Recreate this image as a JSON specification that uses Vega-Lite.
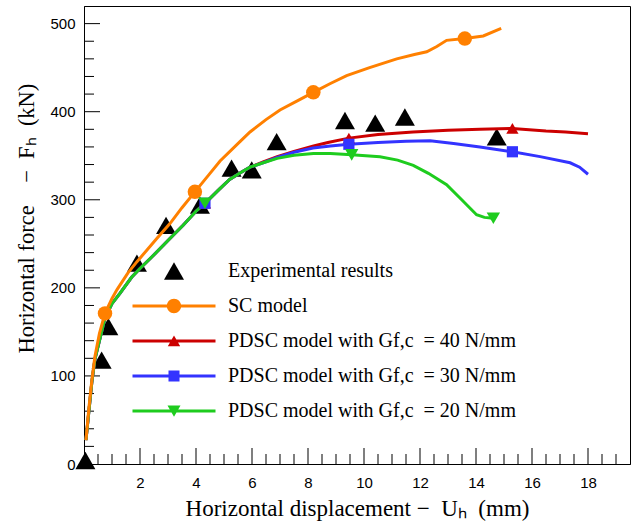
{
  "$schema": "https://vega.github.io/schema/vega-lite/v6.json",
  "width": 546,
  "height": 458,
  "autosize": {"type": "none"},
  "padding": {"left": 84, "top": 6, "right": 13, "bottom": 63},
  "background": "white",
  "config": {
    "view": {"stroke": "black", "strokeWidth": 1},
    "axis": {
      "grid": false,
      "ticks": false,
      "domainColor": "black",
      "domainWidth": 1,
      "labelFont": "Liberation Sans",
      "labelFontSize": 15,
      "labelColor": "black",
      "labelFlush": false,
      "labelOverlap": false,
      "titleFont": "Liberation Serif",
      "titleFontWeight": "normal",
      "titleColor": "black"
    }
  },
  "resolve": {"axis": {"x": "independent", "y": "independent"}},
  "datasets": {
    "xticks": [
      {"v": 0.5}, {"v": 1}, {"v": 1.5}, {"v": 2}, {"v": 2.5}, {"v": 3}, {"v": 3.5}, {"v": 4}, {"v": 4.5}, {"v": 5},
      {"v": 5.5}, {"v": 6}, {"v": 6.5}, {"v": 7}, {"v": 7.5}, {"v": 8}, {"v": 8.5}, {"v": 9}, {"v": 9.5}, {"v": 10},
      {"v": 10.5}, {"v": 11}, {"v": 11.5}, {"v": 12}, {"v": 12.5}, {"v": 13}, {"v": 13.5}, {"v": 14}, {"v": 14.5}, {"v": 15},
      {"v": 15.5}, {"v": 16}, {"v": 16.5}, {"v": 17}, {"v": 17.5}, {"v": 18}, {"v": 18.5}, {"v": 19}
    ],
    "yticks": [
      {"v": 20}, {"v": 40}, {"v": 60}, {"v": 80}, {"v": 100}, {"v": 120}, {"v": 140}, {"v": 160}, {"v": 180}, {"v": 200},
      {"v": 220}, {"v": 240}, {"v": 260}, {"v": 280}, {"v": 300}, {"v": 320}, {"v": 340}, {"v": 360}, {"v": 380}, {"v": 400},
      {"v": 420}, {"v": 440}, {"v": 460}, {"v": 480}, {"v": 500}
    ],
    "main": [
      {"series": "EXP", "x": 0.05, "y": 4, "m": 1},
      {"series": "EXP", "x": 0.63, "y": 118, "m": 1},
      {"series": "EXP", "x": 0.87, "y": 156, "m": 1},
      {"series": "EXP", "x": 1.89, "y": 228, "m": 1},
      {"series": "EXP", "x": 2.93, "y": 271, "m": 1},
      {"series": "EXP", "x": 4.14, "y": 294, "m": 1},
      {"series": "EXP", "x": 5.27, "y": 336, "m": 1},
      {"series": "EXP", "x": 5.99, "y": 334, "m": 1},
      {"series": "EXP", "x": 6.88, "y": 366, "m": 1},
      {"series": "EXP", "x": 9.32, "y": 390, "m": 1},
      {"series": "EXP", "x": 10.4, "y": 387, "m": 1},
      {"series": "EXP", "x": 11.46, "y": 394, "m": 1},
      {"series": "EXP", "x": 14.74, "y": 371.5, "m": 1},

      {"series": "G40", "x": 0.07, "y": 27, "m": 0},
      {"series": "G40", "x": 0.28, "y": 93, "m": 0},
      {"series": "G40", "x": 0.39, "y": 119, "m": 0},
      {"series": "G40", "x": 0.75, "y": 166, "m": 0},
      {"series": "G40", "x": 1.0, "y": 182, "m": 0},
      {"series": "G40", "x": 1.29, "y": 194, "m": 0},
      {"series": "G40", "x": 1.7, "y": 212, "m": 0},
      {"series": "G40", "x": 2.0, "y": 222, "m": 0},
      {"series": "G40", "x": 2.42, "y": 235, "m": 0},
      {"series": "G40", "x": 3.07, "y": 256, "m": 0},
      {"series": "G40", "x": 3.54, "y": 271, "m": 0},
      {"series": "G40", "x": 4.0, "y": 287, "m": 0},
      {"series": "G40", "x": 4.32, "y": 296, "m": 1},
      {"series": "G40", "x": 4.8, "y": 311, "m": 0},
      {"series": "G40", "x": 5.2, "y": 323, "m": 0},
      {"series": "G40", "x": 5.6, "y": 331, "m": 0},
      {"series": "G40", "x": 5.93, "y": 337, "m": 0},
      {"series": "G40", "x": 6.4, "y": 343, "m": 0},
      {"series": "G40", "x": 6.9, "y": 349, "m": 0},
      {"series": "G40", "x": 7.5, "y": 355, "m": 0},
      {"series": "G40", "x": 8.2, "y": 361, "m": 0},
      {"series": "G40", "x": 8.71, "y": 365, "m": 0},
      {"series": "G40", "x": 9.46, "y": 370, "m": 1},
      {"series": "G40", "x": 10.5, "y": 374, "m": 0},
      {"series": "G40", "x": 11.75, "y": 377, "m": 0},
      {"series": "G40", "x": 13.0, "y": 379, "m": 0},
      {"series": "G40", "x": 14.14, "y": 380, "m": 0},
      {"series": "G40", "x": 15.3, "y": 381, "m": 1},
      {"series": "G40", "x": 16.5, "y": 378, "m": 0},
      {"series": "G40", "x": 17.2, "y": 377, "m": 0},
      {"series": "G40", "x": 18.0, "y": 375, "m": 0},

      {"series": "G30", "x": 0.07, "y": 27, "m": 0},
      {"series": "G30", "x": 0.28, "y": 93, "m": 0},
      {"series": "G30", "x": 0.39, "y": 119, "m": 0},
      {"series": "G30", "x": 0.75, "y": 166, "m": 0},
      {"series": "G30", "x": 1.0, "y": 182, "m": 0},
      {"series": "G30", "x": 1.29, "y": 194, "m": 0},
      {"series": "G30", "x": 1.7, "y": 212, "m": 0},
      {"series": "G30", "x": 2.0, "y": 222, "m": 0},
      {"series": "G30", "x": 2.42, "y": 235, "m": 0},
      {"series": "G30", "x": 3.07, "y": 256, "m": 0},
      {"series": "G30", "x": 3.54, "y": 271, "m": 0},
      {"series": "G30", "x": 4.0, "y": 287, "m": 0},
      {"series": "G30", "x": 4.32, "y": 296, "m": 1},
      {"series": "G30", "x": 4.8, "y": 311, "m": 0},
      {"series": "G30", "x": 5.2, "y": 323, "m": 0},
      {"series": "G30", "x": 5.6, "y": 331, "m": 0},
      {"series": "G30", "x": 5.93, "y": 337, "m": 0},
      {"series": "G30", "x": 6.4, "y": 342, "m": 0},
      {"series": "G30", "x": 6.9, "y": 348, "m": 0},
      {"series": "G30", "x": 7.5, "y": 354, "m": 0},
      {"series": "G30", "x": 8.18, "y": 358.7, "m": 0},
      {"series": "G30", "x": 8.8, "y": 361, "m": 0},
      {"series": "G30", "x": 9.46, "y": 363, "m": 1},
      {"series": "G30", "x": 10.5, "y": 365, "m": 0},
      {"series": "G30", "x": 11.5, "y": 366.5, "m": 0},
      {"series": "G30", "x": 12.36, "y": 367, "m": 0},
      {"series": "G30", "x": 13.2, "y": 364, "m": 0},
      {"series": "G30", "x": 14.14, "y": 360, "m": 0},
      {"series": "G30", "x": 15.3, "y": 354.5, "m": 1},
      {"series": "G30", "x": 16.29, "y": 349, "m": 0},
      {"series": "G30", "x": 17.36, "y": 342, "m": 0},
      {"series": "G30", "x": 17.7, "y": 337, "m": 0},
      {"series": "G30", "x": 18.0, "y": 329, "m": 0},

      {"series": "G20", "x": 0.07, "y": 27, "m": 0},
      {"series": "G20", "x": 0.28, "y": 93, "m": 0},
      {"series": "G20", "x": 0.39, "y": 119, "m": 0},
      {"series": "G20", "x": 0.75, "y": 166, "m": 0},
      {"series": "G20", "x": 1.0, "y": 182, "m": 0},
      {"series": "G20", "x": 1.29, "y": 194, "m": 0},
      {"series": "G20", "x": 1.7, "y": 212, "m": 0},
      {"series": "G20", "x": 2.0, "y": 222, "m": 0},
      {"series": "G20", "x": 2.42, "y": 235, "m": 0},
      {"series": "G20", "x": 3.07, "y": 256, "m": 0},
      {"series": "G20", "x": 3.54, "y": 271, "m": 0},
      {"series": "G20", "x": 4.0, "y": 287, "m": 0},
      {"series": "G20", "x": 4.32, "y": 296, "m": 1},
      {"series": "G20", "x": 4.8, "y": 311, "m": 0},
      {"series": "G20", "x": 5.2, "y": 323, "m": 0},
      {"series": "G20", "x": 5.6, "y": 331, "m": 0},
      {"series": "G20", "x": 5.93, "y": 337, "m": 0},
      {"series": "G20", "x": 6.4, "y": 342, "m": 0},
      {"series": "G20", "x": 6.9, "y": 347, "m": 0},
      {"series": "G20", "x": 7.5, "y": 350.5, "m": 0},
      {"series": "G20", "x": 8.19, "y": 352.6, "m": 0},
      {"series": "G20", "x": 8.8, "y": 352.5, "m": 0},
      {"series": "G20", "x": 9.56, "y": 351, "m": 1},
      {"series": "G20", "x": 10.57, "y": 348.8, "m": 0},
      {"series": "G20", "x": 11.2, "y": 345, "m": 0},
      {"series": "G20", "x": 11.76, "y": 339, "m": 0},
      {"series": "G20", "x": 12.3, "y": 330, "m": 0},
      {"series": "G20", "x": 12.95, "y": 317, "m": 0},
      {"series": "G20", "x": 13.49, "y": 300, "m": 0},
      {"series": "G20", "x": 14.02, "y": 283, "m": 0},
      {"series": "G20", "x": 14.3, "y": 280, "m": 0},
      {"series": "G20", "x": 14.62, "y": 279, "m": 1},

      {"series": "SC", "x": 0.07, "y": 27, "m": 0},
      {"series": "SC", "x": 0.18, "y": 65, "m": 0},
      {"series": "SC", "x": 0.28, "y": 95, "m": 0},
      {"series": "SC", "x": 0.39, "y": 122, "m": 0},
      {"series": "SC", "x": 0.55, "y": 148, "m": 0},
      {"series": "SC", "x": 0.75, "y": 171, "m": 1},
      {"series": "SC", "x": 1.0, "y": 188, "m": 0},
      {"series": "SC", "x": 1.18, "y": 198, "m": 0},
      {"series": "SC", "x": 1.57, "y": 217, "m": 0},
      {"series": "SC", "x": 1.9, "y": 230, "m": 0},
      {"series": "SC", "x": 2.25, "y": 243, "m": 0},
      {"series": "SC", "x": 2.6, "y": 256, "m": 0},
      {"series": "SC", "x": 3.07, "y": 273, "m": 0},
      {"series": "SC", "x": 3.5, "y": 291, "m": 0},
      {"series": "SC", "x": 3.96, "y": 309, "m": 1},
      {"series": "SC", "x": 4.5, "y": 330, "m": 0},
      {"series": "SC", "x": 4.86, "y": 344, "m": 0},
      {"series": "SC", "x": 5.57, "y": 366, "m": 0},
      {"series": "SC", "x": 5.93, "y": 377, "m": 0},
      {"series": "SC", "x": 6.5, "y": 391, "m": 0},
      {"series": "SC", "x": 7.0, "y": 402, "m": 0},
      {"series": "SC", "x": 7.6, "y": 412, "m": 0},
      {"series": "SC", "x": 8.19, "y": 422, "m": 1},
      {"series": "SC", "x": 8.8, "y": 432, "m": 0},
      {"series": "SC", "x": 9.38, "y": 441, "m": 0},
      {"series": "SC", "x": 10.2, "y": 450, "m": 0},
      {"series": "SC", "x": 11.17, "y": 460, "m": 0},
      {"series": "SC", "x": 11.8, "y": 465, "m": 0},
      {"series": "SC", "x": 12.24, "y": 468, "m": 0},
      {"series": "SC", "x": 12.6, "y": 474, "m": 0},
      {"series": "SC", "x": 12.95, "y": 481, "m": 0},
      {"series": "SC", "x": 13.6, "y": 483, "m": 1},
      {"series": "SC", "x": 14.26, "y": 486, "m": 0},
      {"series": "SC", "x": 14.9, "y": 494.5, "m": 0}
    ]
  },
  "data": {"name": "main"},
  "encoding": {
    "color": {
      "field": "series",
      "type": "nominal",
      "scale": {
        "domain": ["EXP", "SC", "G40", "G30", "G20"],
        "range": ["#000000", "#FF8000", "#CC0000", "#3333FF", "#1ECC1E"]
      },
      "legend": {
        "orient": "none",
        "legendX": 80,
        "legendY": 255,
        "title": null,
        "padding": 0,
        "symbolSize": 400,
        "labelOffset": 44,
        "rowPadding": 15,
        "labelFont": "Liberation Serif",
        "labelFontSize": 20,
        "labelColor": "black",
        "labelLimit": 0,
        "labelExpr": "{'EXP': 'Experimental results', 'SC': 'SC model', 'G40': 'PDSC model with Gf,c\u2002= 40 N/mm', 'G30': 'PDSC model with Gf,c\u2002= 30 N/mm', 'G20': 'PDSC model with Gf,c\u2002= 20 N/mm'}[datum.value]",
        "encode": {
          "symbols": {
            "update": {
              "shape": {"signal": "{'EXP': 'M0,-0.866L1,0.866L-1,0.866Z', 'SC': 'M-4.15,-0.14H4.15V0.14H-4.15ZM-0.72,0A0.72,0.72 0 1,1 0.72,0A0.72,0.72 0 1,1 -0.72,0Z', 'G40': 'M-4.15,-0.14H4.15V0.14H-4.15ZM0,-0.55L0.62,0.52L-0.62,0.52Z', 'G30': 'M-4.15,-0.14H4.15V0.14H-4.15ZM-0.55,-0.55H0.55V0.55H-0.55Z', 'G20': 'M-4.15,-0.14H4.15V0.14H-4.15ZM-0.65,-0.55L0.65,-0.55L0,0.58Z'}[datum.value]"},
              "fill": {"signal": "scale('color', datum.value)"},
              "stroke": {"value": "transparent"},
              "strokeWidth": {"value": 0},
              "size": {"value": 400},
              "opacity": {"value": 1},
              "fillOpacity": {"value": 1}
            }
          }
        }
      }
    }
  },
  "layer": [
    {
      "data": {"name": "xticks"},
      "transform": [{"filter": "datum.v % 2 !== 0"}],
      "mark": {"type": "tick", "orient": "vertical", "thickness": 1, "size": 10, "yOffset": -5, "opacity": 1},
      "encoding": {
        "x": {"field": "v", "type": "quantitative", "axis": null},
        "y": {"datum": 0, "type": "quantitative", "axis": null},
        "color": {"value": "black"}
      }
    },
    {
      "data": {"name": "xticks"},
      "transform": [{"filter": "datum.v % 2 === 0"}],
      "mark": {"type": "tick", "orient": "vertical", "thickness": 1, "size": 16, "yOffset": -8, "opacity": 1},
      "encoding": {
        "x": {"field": "v", "type": "quantitative", "axis": null},
        "y": {"datum": 0, "type": "quantitative", "axis": null},
        "color": {"value": "black"}
      }
    },
    {
      "data": {"name": "yticks"},
      "transform": [{"filter": "datum.v % 100 !== 0"}],
      "mark": {"type": "tick", "orient": "horizontal", "thickness": 1, "size": 10, "xOffset": 5, "opacity": 1},
      "encoding": {
        "y": {"field": "v", "type": "quantitative", "axis": null},
        "x": {"datum": 0, "type": "quantitative", "axis": null},
        "color": {"value": "black"}
      }
    },
    {
      "data": {"name": "yticks"},
      "transform": [{"filter": "datum.v % 100 === 0"}],
      "mark": {"type": "tick", "orient": "horizontal", "thickness": 1, "size": 16, "xOffset": 8, "opacity": 1},
      "encoding": {
        "y": {"field": "v", "type": "quantitative", "axis": null},
        "x": {"datum": 0, "type": "quantitative", "axis": null},
        "color": {"value": "black"}
      }
    },
    {
      "transform": [{"filter": "datum.series === 'EXP'"}],
      "mark": {"type": "point", "shape": "triangle-up", "filled": true, "opacity": 1, "size": 400},
      "encoding": {
        "x": {"field": "x", "type": "quantitative", "scale": {"domain": [0, 19.5], "nice": false, "zero": false}, "axis": null},
        "y": {"field": "y", "type": "quantitative", "scale": {"domain": [0, 520], "nice": false}, "axis": null}
      }
    },
    {
      "transform": [{"filter": "datum.series !== 'EXP'"}],
      "mark": {"type": "line", "strokeWidth": 3},
      "encoding": {
        "x": {
          "field": "x", "type": "quantitative",
          "axis": {
            "orient": "bottom",
            "labelPadding": 11,
            "title": "Horizontal displacement −\u2002Uₕ\u2002(mm)",
            "titleFontSize": 23,
            "titleBaseline": "alphabetic",
            "titleY": 51,
            "values": [0,2,4,6,8,10,12,14,16,18],
            "format": "d",
            "labelExpr": "datum.value > 0 ? datum.label : ''"
          }
        },
        "y": {
          "field": "y", "type": "quantitative",
          "axis": {
            "orient": "left",
            "labelPadding": 9,
            "title": "Horizontal force\u2003−\u2002Fₕ\u2002(kN)",
            "titleFontSize": 22.5,
            "titleBaseline": "alphabetic",
            "titleX": -51,
            "titleY": 212,
            "values": [0,100,200,300,400,500]
          }
        }
      }
    },
    {
      "transform": [{"filter": "datum.series === 'SC' && datum.m === 1"}],
      "mark": {"type": "point", "shape": "circle", "size": 210, "filled": true, "opacity": 1},
      "encoding": {
        "x": {"field": "x", "type": "quantitative", "axis": null},
        "y": {"field": "y", "type": "quantitative", "axis": null}
      }
    },
    {
      "transform": [{"filter": "datum.series === 'G40' && datum.m === 1"}],
      "mark": {"type": "point", "shape": "triangle-up", "size": 150, "filled": true, "opacity": 1},
      "encoding": {
        "x": {"field": "x", "type": "quantitative", "axis": null},
        "y": {"field": "y", "type": "quantitative", "axis": null}
      }
    },
    {
      "transform": [{"filter": "datum.series === 'G30' && datum.m === 1"}],
      "mark": {"type": "point", "shape": "square", "size": 125, "filled": true, "opacity": 1},
      "encoding": {
        "x": {"field": "x", "type": "quantitative", "axis": null},
        "y": {"field": "y", "type": "quantitative", "axis": null}
      }
    },
    {
      "transform": [{"filter": "datum.series === 'G20' && datum.m === 1"}],
      "mark": {"type": "point", "shape": "triangle-down", "size": 180, "filled": true, "opacity": 1},
      "encoding": {
        "x": {"field": "x", "type": "quantitative", "axis": null},
        "y": {"field": "y", "type": "quantitative", "axis": null}
      }
    }
  ]
}
